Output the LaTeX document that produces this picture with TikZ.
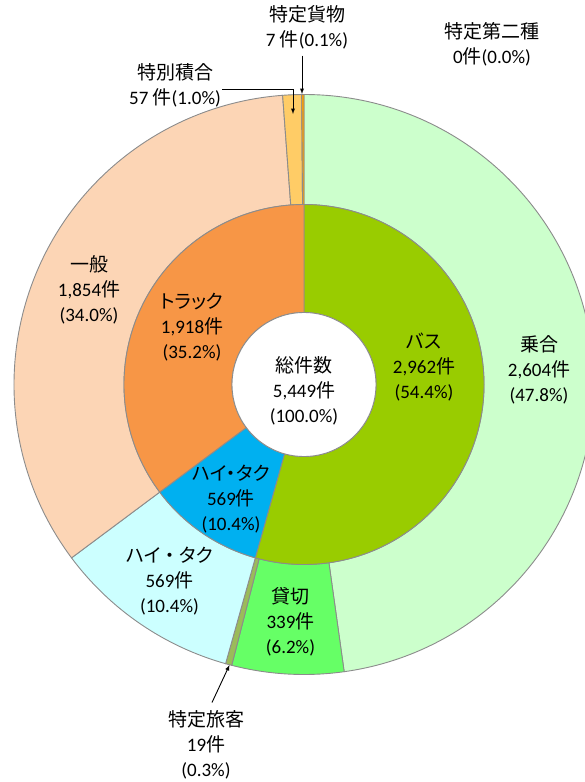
\documentclass[tikz,border=0pt]{standalone}
\usepackage{fontspec}
\setmainfont{Noto Sans CJK JP}[RawFeature={+palt}]
\newfontfamily\calfont{Carlito}
\newcommand{\kensu}[3]{#1\\{\calfont #2}件\\{\calfont (#3\%)}}
\definecolor{edgegray}{HTML}{8C8C8C}
\definecolor{joai}{HTML}{CCFFCC}
\definecolor{kashikiri}{HTML}{66FF66}
\definecolor{ryokyaku}{HTML}{9BBB59}
\definecolor{taxiout}{HTML}{CCFFFF}
\definecolor{ippan}{HTML}{FCD5B5}
\definecolor{sekigo}{HTML}{FFCC66}
\definecolor{kamotsu}{HTML}{FFA000}
\definecolor{bus}{HTML}{99CC00}
\definecolor{taxiin}{HTML}{00B0F0}
\definecolor{truck}{HTML}{F79646}
\begin{document}
\begin{tikzpicture}[x=1pt,y=-1pt]
\tikzstyle{lbl}=[align=center,inner sep=1pt,font=\fontsize{19}{25}\selectfont]
\tikzstyle{part}=[draw=edgegray,line width=0.9pt]
\tikzstyle{arr}=[-latex,line width=0.9pt]
\useasboundingbox (0,0) rectangle (584,782);
\begin{scope}[shift={(304,384.5)},y=1pt]
% outer ring
\foreach \a/\b/\c in {90/-82.039/joai,-82.039/-104.434/kashikiri,
    -104.434/-105.689/ryokyaku,-105.689/-143.282/taxiout,
    -143.282/-265.772/ippan,-265.772/-269.538/sekigo,-269.538/-270/kamotsu}
  \draw[part,fill=\c] (\a:290) arc[start angle=\a,end angle=\b,radius=290]
    -- (\b:180) arc[start angle=\b,end angle=\a,radius=180] -- cycle;
% inner ring
\foreach \a/\b/\c in {90/-105.689/bus,-105.689/-143.282/taxiin,-143.282/-270/truck}
  \draw[part,fill=\c] (\a:180) arc[start angle=\a,end angle=\b,radius=180]
    -- (\b:72) arc[start angle=\b,end angle=\a,radius=72] -- cycle;
\draw[part,fill=white] (0,0) circle[radius=72];
\end{scope}
\node[lbl] (total) at (304,391) {\kensu{総件数}{5,449}{100.0}};
\node[lbl] (busL) at (424,367) {\kensu{バス}{2,962}{54.4}};
\node[lbl] (taxiI) at (231,499) {\kensu{ハイ・タク}{569}{10.4}};
\node[lbl] (truckL) at (192,327) {\kensu{トラック}{1,918}{35.2}};
\node[lbl] (joaiL) at (539,370) {\kensu{乗合}{2,604}{47.8}};
\node[lbl] (kashiL) at (290.5,622) {\kensu{貸切}{339}{6.2}};
\node[lbl] (taxiO) at (169.5,581) {\kensu{ハイ ・ タク}{569}{10.4}};
\node[lbl] (ippanL) at (89,290) {\kensu{一般}{1,854}{34.0}};
\node[lbl] (ryokyakuL) at (206,745) {\kensu{特定旅客}{19}{0.3}};
\node[lbl] (kamotsuL) at (307,27.5) {特定貨物\\{\calfont 7 }件{\calfont (0.1\%)}};
\node[lbl] (dainishuL) at (492,44.5) {特定第二種\\{\calfont 0}件{\calfont (0.0\%)}};
\node[lbl] (sekigoL) at (175,85) {特別積合\\{\calfont 57 }件{\calfont (1.0\%)}};
% leaders
\coordinate (kamotsuTip) at (302,94);
\coordinate (sekigoBend) at (293,89);
\coordinate (sekigoTip) at (293,114);
\coordinate (ryokyakuTip) at (229.5,665);
\draw[arr,shorten <=5pt] (kamotsuTip |- kamotsuL.south) -- (kamotsuTip);
\draw[arr] (sekigoL.east |- sekigoBend) -- (sekigoBend) -- (sekigoTip);
\draw[arr] ([xshift=6pt,yshift=7pt]ryokyakuL.north) -- (ryokyakuTip);
\end{tikzpicture}
\end{document}
